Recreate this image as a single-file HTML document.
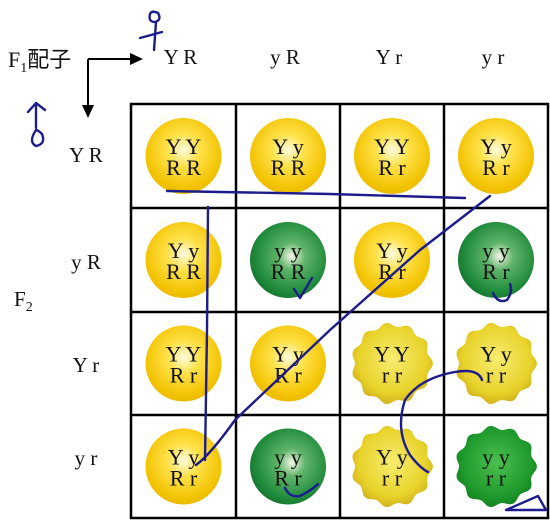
<!DOCTYPE html>
<html><head><meta charset="utf-8"><style>
html,body{margin:0;padding:0;background:#fff}
svg{display:block}
text{font-family:"Liberation Serif","Noto Serif CJK SC",serif;fill:#111}
</style></head><body>
<svg id="chart" width="550" height="520" viewBox="0 0 550 520">
<defs>
<radialGradient id="gy" cx="0.5" cy="0.42" r="0.6"><stop offset="0" stop-color="#fffbe0"/><stop offset="0.35" stop-color="#ffe24a"/><stop offset="0.85" stop-color="#f2c200"/><stop offset="1" stop-color="#e8b800"/></radialGradient>
<radialGradient id="gg" cx="0.55" cy="0.45" r="0.6"><stop offset="0" stop-color="#f4f8e8"/><stop offset="0.3" stop-color="#5fb46a"/><stop offset="0.8" stop-color="#1e8a3a"/><stop offset="1" stop-color="#167030"/></radialGradient>
<radialGradient id="wy" cx="0.5" cy="0.45" r="0.6"><stop offset="0" stop-color="#f8ec70"/><stop offset="0.7" stop-color="#e8d22a"/><stop offset="1" stop-color="#c9a818"/></radialGradient>
<radialGradient id="wg" cx="0.5" cy="0.45" r="0.6"><stop offset="0" stop-color="#4cc050"/><stop offset="0.7" stop-color="#1f9a2c"/><stop offset="1" stop-color="#137a20"/></radialGradient>
</defs>
<g id="labels">
<text x="8" y="67" font-size="22">F<tspan font-size="14" dy="5">1</tspan><tspan dy="-5" font-family="Noto Sans CJK SC, sans-serif">配子</tspan></text>
<path d="M88 59 H133" stroke="#000" stroke-width="2" fill="none"/>
<polygon points="143,59 130,53 130,65" fill="#000"/>
<path d="M88 59 V108" stroke="#000" stroke-width="2" fill="none"/>
<polygon points="88,118 82,105 94,105" fill="#000"/>
<text x="14" y="306" font-size="21">F<tspan font-size="14" dy="5">2</tspan></text>
</g>
<g id="grid"></g>
<g id="ink" fill="none" stroke="#1c1c8c" stroke-width="2.4" stroke-linecap="round" stroke-linejoin="round">
<path d="M150 14 Q148 22 155 22 Q162 20 158 13 Q152 10 150 14 M156 22 L154 50 M140 38 L162 32"/>
<path d="M36 130 Q28 142 36 146 Q46 144 42 134 Q38 130 36 130 M36 128 L36 104 M28 112 L36 103 L45 110"/>
<path d="M167 191 L330 194 L465 198"/>
<path d="M208 207 L207 330 L205 460"/>
<path d="M196 465 Q210 455 235 420 L330 330 L420 250 L490 196"/>
<path d="M482 380 Q478 368 455 372 Q420 378 405 400 Q395 430 410 455 Q420 468 428 472"/>
<path d="M294 289 L300 298 L312 278"/>
<path d="M493 293 Q498 304 507 300 Q513 292 510 284"/>
<path d="M285 488 Q290 498 300 496 Q312 490 318 484"/>
<path d="M506 510 L538 496 L546 510 Z"/>
</g>
</svg>
<script>
const colGametes=["Y R","y R","Y r","y r"];
const rowGametes=["Y R","y R","Y r","y r"];
const geno=[["YY|RR","Yy|RR","YY|Rr","Yy|Rr"],["Yy|RR","yy|RR","Yy|Rr","yy|Rr"],["YY|Rr","Yy|Rr","YY|rr","Yy|rr"],["Yy|Rr","yy|Rr","Yy|rr","yy|rr"]];
const NS="http://www.w3.org/2000/svg";
const svg=document.getElementById('chart');
const grid=document.getElementById('grid');
const ink=document.getElementById('ink');
const xs=[131,236,340,444,548], ys=[104,208,312,415,518];
function mk(t,a,p){const e=document.createElementNS(NS,t);for(const k in a)e.setAttribute(k,a[k]);(p||grid).appendChild(e);return e;}
const headY=[155,262,365,458];
colGametes.forEach((g,i)=>{
 const t=mk('text',{x:(xs[i]+xs[i+1])/2-3,y:64,'font-size':21,'text-anchor':'middle'});
 
 
 t.textContent=g;
});
rowGametes.forEach((g,i)=>{
 const t=mk('text',{x:86,y:headY[i]+7,'font-size':21,'text-anchor':'middle'});
 
 
 t.textContent=g;
});
function wrinkled(cx,cy,r){let d='';const n=11;for(let i=0;i<=n*8;i++){const a=i/(n*8)*Math.PI*2;const rr=r*(0.95+0.05*Math.cos(a*n));d+=(i?'L':'M')+(cx+rr*Math.cos(a)).toFixed(1)+' '+(cy+rr*Math.sin(a)).toFixed(1);}return d+'Z';}
geno.forEach((row,r)=>row.forEach((gt,c)=>{
 const cx=(xs[c]+xs[c+1])/2, cy=(ys[r]+ys[r+1])/2;
 const [a,b]=gt.split('|');
 const yellow=a.includes('Y'), round=b.includes('R');
 let e;
 if(round){e=mk('circle',{cx:cx,cy:cy,r:38,fill:yellow?'url(#gy)':'url(#gg)'});}
 else{e=mk('path',{d:wrinkled(cx,cy,41),fill:yellow?'url(#wy)':'url(#wg)'});}
 
 
 const t1=mk('text',{x:cx,y:cy-2,'font-size':22,'text-anchor':'middle'});
 
 
 t1.textContent=a.split('').join(' ');
 const t2=mk('text',{x:cx,y:cy+19,'font-size':22,'text-anchor':'middle'});
 
 
 t2.textContent=b.split('').join(' ');
}));
xs.forEach((x,i)=>{const l=mk('line',{x1:x,y1:103,x2:x,y2:519,stroke:'#000','stroke-width':2.5});
 
 });
ys.forEach((y,i)=>{const l=mk('line',{x1:130,y1:y,x2:549,y2:y,stroke:'#000','stroke-width':2.5});
 
 });
svg.appendChild(ink);
</script>
</body></html>
